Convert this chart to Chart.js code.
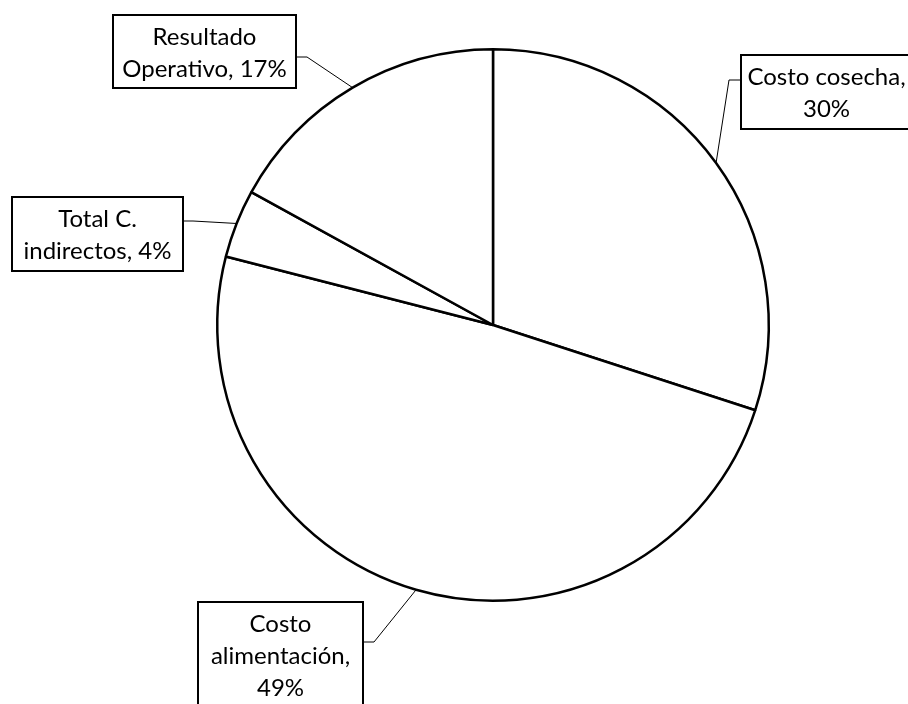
<!DOCTYPE html>
<html>
<head>
<meta charset="utf-8">
<script src="https://cdn.jsdelivr.net/npm/chart.js@4/dist/chart.umd.min.js"></script>
<style>
  html, body { margin: 0; padding: 0; background: #fff; }
  #wrap { width: 908px; height: 704px; position: relative; }
</style>
</head>
<body>
<div id="wrap"><canvas id="pie" width="908" height="704"></canvas></div>
<script>
const categories = ['Costo cosecha', 'Costo alimentación', 'Total C. indirectos', 'Resultado Operativo'];
const shares = [30, 49, 4, 17];

// callout boxes: box rect, elbow x of the leader, y where the leader leaves the box
const callouts = [
  { x: 741, y: 55,  w: 176, h: 74,  side: 'left',  elbowX: 729, anchorY: 80 },
  { x: 198, y: 602, w: 165, h: 120, side: 'right', elbowX: 374, anchorY: 642 },
  { x: 12,  y: 197, w: 171, h: 74,  side: 'right', elbowX: 193, anchorY: 221 },
  { x: 113, y: 15,  w: 183, h: 73,  side: 'right', elbowX: 307, anchorY: 57 }
];

const FONT = '24px Lato, "Open Sans", sans-serif';
const LINE_H = 32;

function wrapText(ctx, text, maxW) {
  const words = text.split(' ');
  const lines = [];
  let cur = '';
  words.forEach(w => {
    const test = cur ? cur + ' ' + w : w;
    if (cur && ctx.measureText(test).width > maxW) {
      lines.push(cur);
      cur = w;
    } else {
      cur = test;
    }
  });
  if (cur) lines.push(cur);
  return lines;
}

const calloutPlugin = {
  id: 'callouts',
  afterDraw(chart) {
    const ctx = chart.ctx;
    const arcs = chart.getDatasetMeta(0).data;
    ctx.save();
    ctx.font = FONT;
    arcs.forEach((arc, i) => {
      const c = callouts[i];
      const mid = (arc.startAngle + arc.endAngle) / 2;
      const ex = arc.x + Math.cos(mid) * arc.outerRadius;
      const ey = arc.y + Math.sin(mid) * arc.outerRadius;
      const sx = c.side === 'left' ? c.x : c.x + c.w;

      // leader line
      ctx.strokeStyle = '#000';
      ctx.lineWidth = 1;
      ctx.beginPath();
      ctx.moveTo(sx, c.anchorY);
      ctx.lineTo(c.elbowX, c.anchorY);
      ctx.lineTo(ex, ey);
      ctx.stroke();

      // box
      ctx.fillStyle = '#fff';
      ctx.fillRect(c.x, c.y, c.w, c.h);
      ctx.lineWidth = 2;
      ctx.strokeRect(c.x, c.y, c.w, c.h);

      // text
      const label = categories[i] + ', ' + shares[i] + '%';
      const maxW = (c.side === 'left' ? Math.min(c.w, 908 - c.x) : c.w) - 8;
      const lines = wrapText(ctx, label, maxW);
      const cx = c.side === 'left' ? c.x + (908 - c.x) / 2 + 2 : c.x + c.w / 2;
      ctx.fillStyle = '#000';
      ctx.textAlign = 'center';
      ctx.textBaseline = 'alphabetic';
      lines.forEach((ln, k) => {
        ctx.fillText(ln, cx, c.y + 30 + k * LINE_H);
      });
    });
    ctx.restore();
  }
};

new Chart(document.getElementById('pie'), {
  type: 'pie',
  data: {
    labels: categories,
    datasets: [{
      data: shares,
      backgroundColor: '#ffffff',
      borderColor: '#000000',
      borderWidth: 2.5
    }]
  },
  options: {
    responsive: false,
    animation: false,
    layout: { padding: { left: 216, top: 48, right: 138, bottom: 102 } },
    plugins: {
      legend: { display: false },
      tooltip: { enabled: false }
    }
  },
  plugins: [calloutPlugin]
});
</script>
</body>
</html>
